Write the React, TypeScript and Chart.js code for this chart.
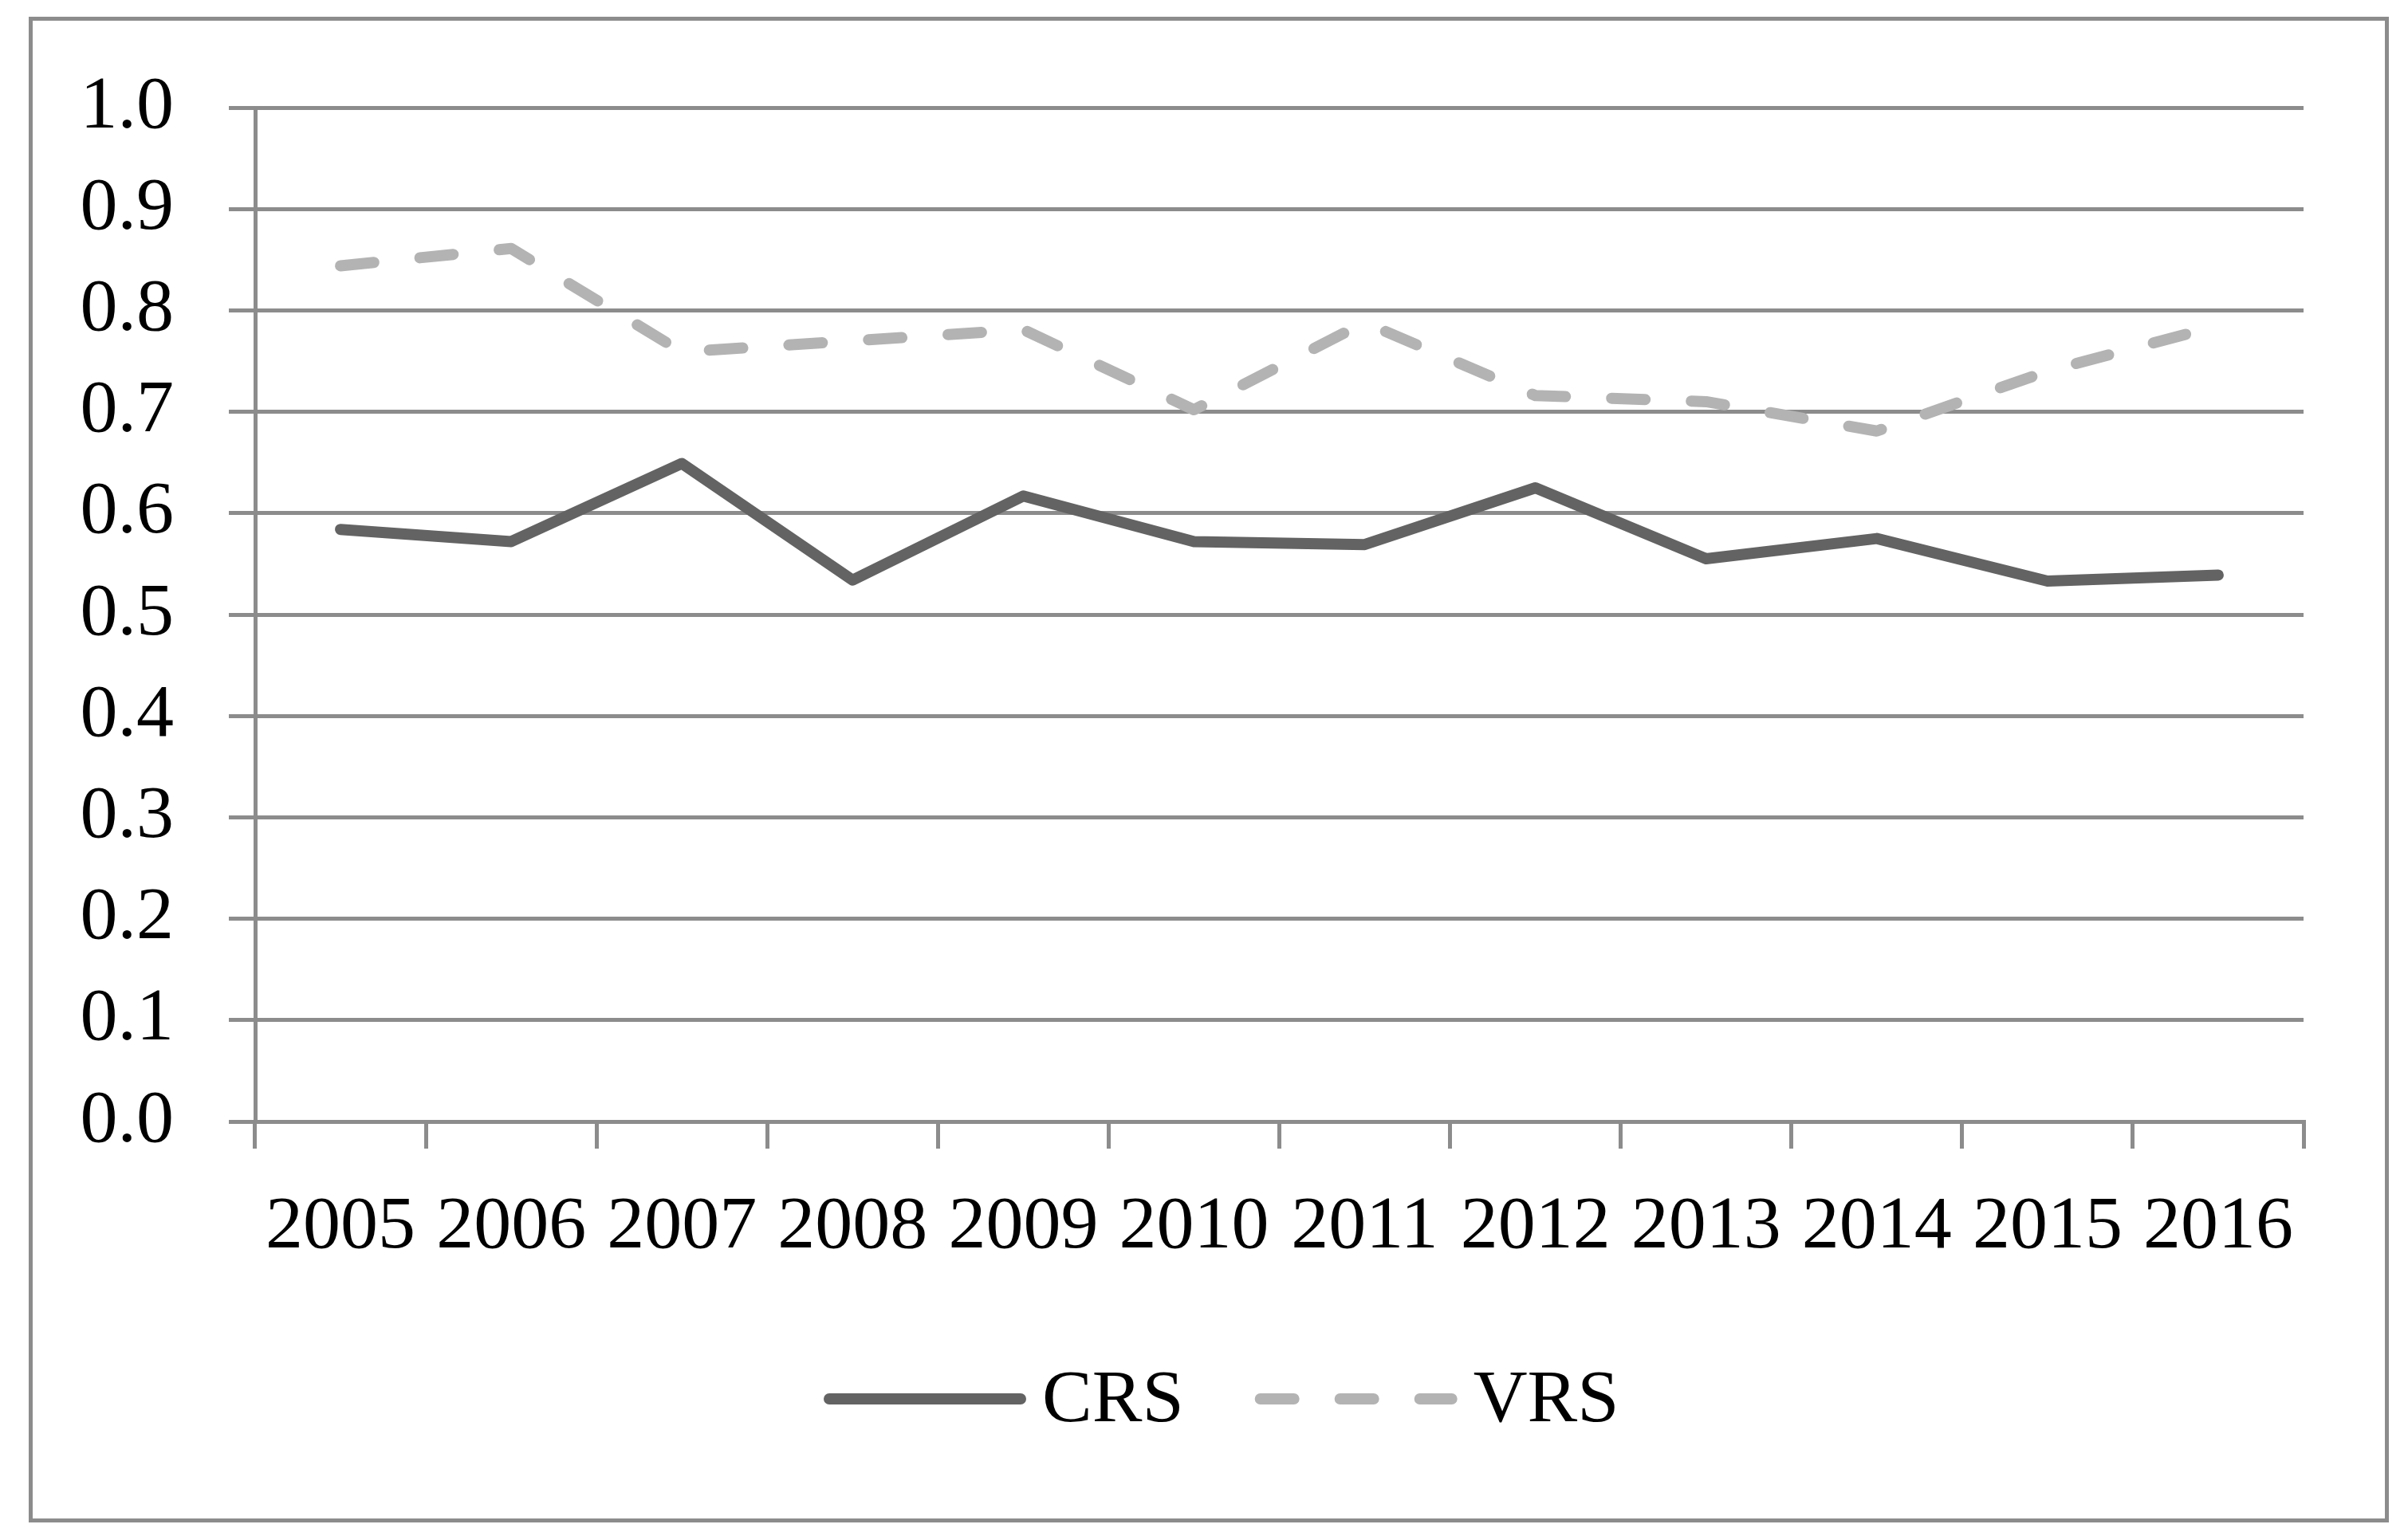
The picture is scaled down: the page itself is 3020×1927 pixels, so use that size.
import React, { useEffect, useRef } from 'react';
import { Chart, registerables } from 'chart.js';

Chart.register(...registerables);

const years = ['2005', '2006', '2007', '2008', '2009', '2010', '2011', '2012', '2013', '2014', '2015', '2016'];
const crsValues = [0.584, 0.572, 0.649, 0.534, 0.617, 0.572, 0.569, 0.625, 0.555, 0.575, 0.533, 0.539];
const vrsValues = [0.844, 0.861, 0.759, 0.770, 0.781, 0.702, 0.788, 0.716, 0.710, 0.681, 0.740, 0.785];
const yMin = 0;
const yMax = 1;
const yStep = 0.1;

const FONT = "'Liberation Serif', 'Times New Roman', serif";
const GRID = '#8c8c8c';
const LINE_W = 14;

// Legend drawn with the chart's own dataset styles
const legendPlugin = {
  id: 'bottomLegend',
  afterDraw(chart: any) {
    const ctx = chart.ctx as CanvasRenderingContext2D;
    const lineY = 1755;
    const textBaseline = 1783;
    const lineLen = 240;
    let x = 1040;
    ctx.save();
    ctx.font = `94px ${FONT}`;
    ctx.textBaseline = 'alphabetic';
    ctx.textAlign = 'left';
    chart.data.datasets.forEach((ds: any) => {
      ctx.beginPath();
      ctx.lineWidth = ds.borderWidth;
      ctx.strokeStyle = ds.borderColor;
      ctx.lineCap = 'round';
      ctx.setLineDash(ds.borderDash || []);
      ctx.moveTo(x, lineY);
      ctx.lineTo(x + lineLen, lineY);
      ctx.stroke();
      ctx.setLineDash([]);
      const tx = x + lineLen + 7 + 20;
      ctx.fillStyle = '#000';
      ctx.fillText(ds.label, tx, textBaseline);
      const tw = ctx.measureText(ds.label).width;
      x = tx + tw + 89 + 7;
    });
    ctx.restore();
  },
};

export default function App() {
  const canvasRef = useRef<HTMLCanvasElement | null>(null);

  useEffect(() => {
    document.body.style.margin = '0';
    document.body.style.overflow = 'hidden';
    const canvas = canvasRef.current;
    if (!canvas) return;
    const chart = new Chart(canvas, {
      type: 'line',
      data: {
        labels: years,
        datasets: [
          {
            label: 'CRS',
            data: crsValues,
            borderColor: '#636363',
            backgroundColor: '#636363',
            borderWidth: LINE_W,
            borderCapStyle: 'round',
            borderJoinStyle: 'round',
            pointRadius: 0,
            tension: 0,
            fill: false,
          },
          {
            label: 'VRS',
            data: vrsValues,
            borderColor: '#b3b3b3',
            backgroundColor: '#b3b3b3',
            borderWidth: LINE_W,
            borderDash: [42, 58],
            borderCapStyle: 'round',
            borderJoinStyle: 'round',
            pointRadius: 0,
            tension: 0,
            fill: false,
          },
        ],
      },
      options: {
        responsive: false,
        maintainAspectRatio: false,
        devicePixelRatio: 1,
        animation: false,
        layout: { padding: { left: 0, right: 131, top: 135, bottom: 0 } },
        plugins: {
          title: { display: false },
          tooltip: { enabled: false },
          legend: { display: false },
        },
        scales: {
          x: {
            type: 'category',
            offset: true,
            grid: {
              display: true,
              drawOnChartArea: false,
              drawTicks: true,
              tickLength: 34,
              offset: true,
              color: GRID,
              lineWidth: 5,
            },
            border: { display: true, color: GRID, width: 5 },
            ticks: {
              autoSkip: false,
              maxRotation: 0,
              minRotation: 0,
              padding: 43,
              color: '#000',
              font: { family: FONT, size: 94 },
            },
            afterFit: (scale: any) => {
              scale.height = 1927 - 1407;
            },
          },
          y: {
            min: yMin,
            max: yMax,
            grid: {
              display: true,
              drawOnChartArea: true,
              drawTicks: true,
              tickLength: 33,
              color: GRID,
              lineWidth: 5,
            },
            border: { display: true, color: GRID, width: 5 },
            ticks: {
              stepSize: yStep,
              padding: 69,
              color: '#000',
              font: { family: FONT, size: 94 },
              callback: (v: any) => Number(v).toFixed(1),
            },
            afterFit: (scale: any) => {
              scale.width = 320;
            },
          },
        },
      },
      plugins: [legendPlugin],
    });
    return () => chart.destroy();
  }, []);

  return (
    <div style={{ position: 'absolute', left: 0, top: 0, width: 3020, height: 1927, background: '#fff' }}>
      <div
        style={{
          position: 'absolute',
          left: 36,
          top: 21,
          width: 2960,
          height: 1889,
          border: '5px solid #8c8c8c',
          boxSizing: 'border-box',
        }}
      />
      <canvas ref={canvasRef} width={3020} height={1927} style={{ position: 'absolute', left: 0, top: 0, width: 3020, height: 1927 }} />
    </div>
  );
}
